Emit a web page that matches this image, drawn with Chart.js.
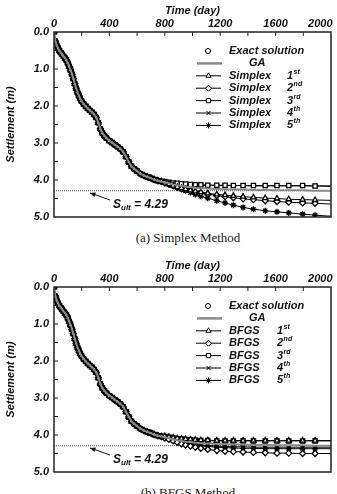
<!DOCTYPE html>
<html>
<head>
<meta charset="utf-8">
<script src="https://cdn.jsdelivr.net/npm/chart.js@4.4.0/dist/chart.umd.min.js"></script>
<style>
  body { margin: 0; background: #fff; width: 337px; height: 494px; overflow: hidden; position: relative; }
  canvas { position: absolute; left: 0; }
  .caption { position: absolute; left: 40px; width: 296px; text-align: center; font-family: 'Liberation Serif', 'DejaVu Serif', serif; font-size: 13px; color: #222; }
</style>
</head>
<body>
<canvas id="chartA" width="337" height="228" style="top:0"></canvas>
<div class="caption" style="top:230px">(a) Simplex Method</div>
<canvas id="chartB" width="337" height="228" style="top:255px"></canvas>
<div class="caption" style="top:485px">(b) BFGS Method</div>
<script>
// time axis (days) shared by every series
const days = [0, 10, 20, 30, 40, 50, 60, 70, 80, 90,
  100, 110, 120, 130, 140, 150, 160, 170, 180, 190,
  200, 215, 230, 245, 260, 275, 290, 305, 320, 335,
  350, 365, 380, 400, 420, 440, 460, 480, 500, 520,
  540, 560, 580, 600, 625, 650, 675, 700, 725, 750,
  775, 800, 830, 860, 890, 920, 950, 985, 1020, 1060,
  1110, 1175, 1235, 1295, 1365, 1440, 1525, 1610, 1695, 1795,
  1885, 2000];

// settlement (m) up to 775 days, where all curves coincide
const earlyCurve = [0.00, 0.25, 0.36, 0.44, 0.51, 0.56, 0.61, 0.66, 0.71, 0.76,
  0.84, 0.93, 1.03, 1.14, 1.26, 1.40, 1.52, 1.63, 1.72, 1.80,
  1.87, 1.95, 2.01, 2.07, 2.12, 2.17, 2.23, 2.31, 2.45, 2.62,
  2.73, 2.81, 2.87, 2.94, 2.99, 3.05, 3.10, 3.16, 3.24, 3.37,
  3.51, 3.63, 3.70, 3.76, 3.83, 3.88, 3.92, 3.95, 3.99, 4.02,
  4.04];

// tails from 800 days on
const exactTail = [4.06, 4.09, 4.12, 4.14, 4.16, 4.18, 4.19];
const gaTail = [4.06, 4.09, 4.12, 4.14, 4.16, 4.18, 4.19, 4.21, 4.22, 4.23, 4.24, 4.25, 4.26, 4.26, 4.27, 4.27, 4.28, 4.28, 4.28, 4.29, 4.29];

const simplex1 = [4.07, 4.11, 4.15, 4.19, 4.22, 4.25, 4.28, 4.31, 4.33, 4.36, 4.39, 4.41, 4.43, 4.45, 4.47, 4.49, 4.50, 4.52, 4.53, 4.54, 4.55];
const simplex2 = [4.08, 4.12, 4.16, 4.20, 4.23, 4.26, 4.29, 4.32, 4.35, 4.38, 4.42, 4.45, 4.48, 4.51, 4.53, 4.56, 4.58, 4.60, 4.62, 4.63, 4.65];
const simplex3 = [4.04, 4.06, 4.08, 4.09, 4.10, 4.11, 4.12, 4.13, 4.13, 4.14, 4.14, 4.14, 4.15, 4.15, 4.15, 4.15, 4.15, 4.15, 4.15, 4.16, 4.16];
const simplex4 = [4.05, 4.07, 4.08, 4.10, 4.11, 4.12, 4.13, 4.13, 4.14, 4.14, 4.15, 4.15, 4.15, 4.15, 4.16, 4.16, 4.16, 4.16, 4.16, 4.16, 4.17];
const simplex5 = [4.08, 4.12, 4.16, 4.20, 4.25, 4.29, 4.34, 4.39, 4.44, 4.49, 4.56, 4.62, 4.68, 4.74, 4.79, 4.83, 4.86, 4.89, 4.92, 4.95, 4.98];

const bfgs1 = [4.03, 4.05, 4.07, 4.09, 4.10, 4.11, 4.12, 4.13, 4.14, 4.14, 4.15, 4.15, 4.15, 4.15, 4.15, 4.15, 4.15, 4.15, 4.15, 4.15, 4.15];
const bfgs2 = [4.08, 4.12, 4.16, 4.20, 4.24, 4.27, 4.30, 4.33, 4.36, 4.39, 4.42, 4.44, 4.45, 4.46, 4.47, 4.48, 4.49, 4.49, 4.50, 4.50, 4.50];
const bfgs3 = [4.04, 4.06, 4.08, 4.10, 4.11, 4.12, 4.13, 4.14, 4.15, 4.15, 4.16, 4.16, 4.16, 4.16, 4.16, 4.16, 4.16, 4.16, 4.16, 4.16, 4.16];
const bfgs4 = [4.07, 4.10, 4.13, 4.16, 4.19, 4.21, 4.23, 4.25, 4.27, 4.28, 4.30, 4.31, 4.32, 4.32, 4.33, 4.33, 4.33, 4.33, 4.33, 4.33, 4.33];
const bfgs5 = [4.07, 4.10, 4.14, 4.17, 4.20, 4.23, 4.25, 4.27, 4.29, 4.31, 4.33, 4.34, 4.35, 4.36, 4.36, 4.37, 4.37, 4.37, 4.37, 4.37, 4.37];

const xTicks = [0, 400, 800, 1200, 1600, 2000];
const yTicks = [0, 1, 2, 3, 4, 5];
const sUlt = 4.29;
const markerStyles = ['triangle', 'rectRot', 'rect', 'crossRot', 'star'];
const ordinals = ['st', 'nd', 'rd', 'th', 'th'];

const FAMILY = '"Liberation Sans", Arial, sans-serif';
const boldItalic = size => ({ family: FAMILY, size: size, style: 'italic', weight: 'bold' });
const cssFont = size => 'italic bold ' + size + 'px ' + FAMILY;

function toPoints(tail) {
  return earlyCurve.concat(tail).map((v, i) => ({ x: days[i], y: v }));
}

function buildDatasets(tails) {
  const lastDay = days[days.length - 1];
  const sets = [{
    label: 'GA', data: toPoints(gaTail), borderColor: '#8a8a8a', borderWidth: 2,
    pointRadius: 0, order: 0
  }, {
    label: 'Exact solution', data: toPoints(exactTail), showLine: false, pointStyle: 'circle',
    pointRadius: 2.5, pointBackgroundColor: '#fff', pointBorderColor: '#000', pointBorderWidth: 1, order: 20
  }];
  tails.forEach((tail, k) => {
    sets.push({
      label: 'series ' + (k + 1), data: toPoints(tail), borderColor: '#000', borderWidth: 1,
      pointStyle: markerStyles[k],
      pointRadius: c => (c.raw && c.raw.x === lastDay ? 0 : 3),
      pointBackgroundColor: '#fff', pointBorderColor: '#000', pointBorderWidth: 1.3, order: 2 + k
    });
  });
  sets.push({
    label: 'Sult', data: [{ x: 0, y: sUlt }, { x: lastDay, y: sUlt }], borderColor: '#444',
    borderWidth: 1, borderDash: [1, 1], pointRadius: 0, order: 30
  });
  return sets;
}

function line(ctx, x1, y1, x2, y2) {
  ctx.beginPath();
  ctx.moveTo(x1, y1);
  ctx.lineTo(x2, y2);
  ctx.stroke();
}

function marker(ctx, style, radius, x, y) {
  ctx.fillStyle = '#fff';
  ctx.strokeStyle = '#000';
  ctx.lineWidth = 1;
  if (Chart.helpers && Chart.helpers.drawPoint) {
    Chart.helpers.drawPoint(ctx, { pointStyle: style, radius: radius, borderWidth: 1, rotation: 0 }, x, y);
  } else {
    ctx.beginPath();
    ctx.arc(x, y, radius, 0, Math.PI * 2);
    ctx.fill();
    ctx.stroke();
  }
}

const framePlugin = {
  id: 'frame',
  afterDraw(chart, args, opts) {
    const { ctx, chartArea: a, scales: { x, y } } = chart;
    ctx.save();
    ctx.strokeStyle = '#222';
    ctx.lineWidth = 1.5;
    ctx.strokeRect(a.left, a.top, a.right - a.left, a.bottom - a.top);

    // small inward ticks
    ctx.lineWidth = 1;
    for (let t = 200; t < 2000; t += 200) {
      const px = x.getPixelForValue(t);
      line(ctx, px, a.top, px, a.top + 4);
    }
    for (let v = 0.5; v < 5; v += 0.5) {
      const py = y.getPixelForValue(v);
      line(ctx, a.left, py, a.left + 4, py);
    }

    // legend
    const y0 = a.top + 19;
    const step = 12.4;
    ctx.textBaseline = 'middle';
    ctx.textAlign = 'left';
    marker(ctx, 'circle', 2.5, 208, y0);
    ctx.fillStyle = '#111';
    ctx.font = cssFont(11);
    ctx.fillText('Exact solution', 229, y0);

    ctx.strokeStyle = '#8a8a8a';
    ctx.lineWidth = 2.5;
    line(ctx, 197, y0 + step, 222, y0 + step);
    ctx.fillStyle = '#111';
    ctx.fillText('GA', 249, y0 + step);

    for (let k = 0; k < 5; k++) {
      const ry = y0 + step * (k + 2);
      ctx.strokeStyle = '#000';
      ctx.lineWidth = 1;
      line(ctx, 196, ry, 221, ry);
      marker(ctx, markerStyles[k], 3, 208.5, ry);
      ctx.fillStyle = '#111';
      ctx.font = cssFont(11);
      ctx.fillText(opts.method, 229, ry);
      ctx.fillText(String(k + 1), opts.supX, ry);
      const w = ctx.measureText(String(k + 1)).width;
      ctx.font = cssFont(7);
      ctx.fillText(ordinals[k], opts.supX + w + 0.5, ry - 4);
    }

    // S_ult annotation
    const tipX = x.getPixelForValue(260), tipY = y.getPixelForValue(4.35);
    const tailX = x.getPixelForValue(404), tailY = y.getPixelForValue(4.54);
    ctx.strokeStyle = '#111';
    ctx.lineWidth = 1;
    line(ctx, tailX, tailY, tipX, tipY);
    const ang = Math.atan2(tipY - tailY, tipX - tailX);
    ctx.fillStyle = '#111';
    ctx.beginPath();
    ctx.moveTo(tipX, tipY);
    ctx.lineTo(tipX - 6 * Math.cos(ang - 0.4), tipY - 6 * Math.sin(ang - 0.4));
    ctx.lineTo(tipX - 6 * Math.cos(ang + 0.4), tipY - 6 * Math.sin(ang + 0.4));
    ctx.closePath();
    ctx.fill();

    const tx = x.getPixelForValue(426), ty = y.getPixelForValue(4.68);
    ctx.font = cssFont(12);
    ctx.fillText('S', tx, ty);
    let cx = tx + ctx.measureText('S').width;
    ctx.font = cssFont(8);
    ctx.fillText('ult', cx, ty + 3);
    cx += ctx.measureText('ult').width;
    ctx.font = cssFont(12);
    ctx.fillText(' = 4.29', cx, ty);
    ctx.restore();
  }
};

function makeChart(id, tails, method, supX) {
  return new Chart(document.getElementById(id), {
    type: 'line',
    data: { datasets: buildDatasets(tails) },
    options: {
      responsive: false,
      animation: false,
      devicePixelRatio: 1,
      layout: { padding: { left: 0, right: 6, top: 0, bottom: 11 } },
      elements: { line: { tension: 0 } },
      plugins: {
        legend: { display: false },
        tooltip: { enabled: false },
        frame: { method: method, supX: supX }
      },
      scales: {
        x: {
          type: 'linear', position: 'top', min: 0, max: 2000,
          afterBuildTicks: s => { s.ticks = xTicks.map(v => ({ value: v })); },
          ticks: {
            font: boldItalic(11), color: '#111', padding: 1, maxRotation: 0, autoSkip: false,
            // last label sits inside the frame like the original
            callback: v => (v === xTicks[xTicks.length - 1] ? String(v) + '       ' : String(v))
          },
          grid: { display: false, drawTicks: false },
          border: { display: false },
          title: { display: true, text: 'Time (day)', font: boldItalic(11), color: '#111', padding: { top: 4, bottom: 0 } },
          afterFit: s => { s.height = 32; s.paddingLeft = 0; s.paddingRight = 0; }
        },
        y: {
          type: 'linear', reverse: true, min: 0, max: 5,
          afterBuildTicks: s => { s.ticks = yTicks.map(v => ({ value: v })); },
          ticks: { font: boldItalic(11), color: '#111', padding: 5, callback: v => v.toFixed(1) },
          grid: { display: false, drawTicks: false },
          border: { display: false },
          title: { display: true, text: 'Settlement (m)', font: boldItalic(11), color: '#111', padding: { top: 4, bottom: 0 } },
          afterFit: s => { s.width = 54; s.paddingTop = 0; s.paddingBottom = 0; }
        }
      }
    },
    plugins: [framePlugin]
  });
}

makeChart('chartA', [simplex1, simplex2, simplex3, simplex4, simplex5], 'Simplex', 287);
makeChart('chartB', [bfgs1, bfgs2, bfgs3, bfgs4, bfgs5], 'BFGS', 277);
</script>
</body>
</html>
